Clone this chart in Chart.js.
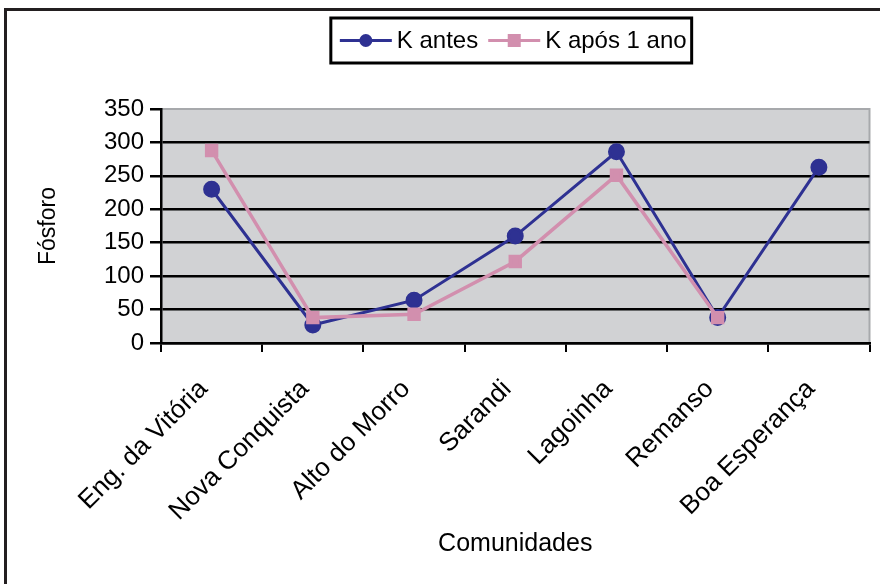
<!DOCTYPE html>
<html>
<head>
<meta charset="utf-8">
<script src="https://cdn.jsdelivr.net/npm/chart.js@4"></script>
<style>
  html, body { margin: 0; padding: 0; background: #fff; }
  #wrap { position: relative; width: 880px; height: 584px; }
</style>
</head>
<body>
<div id="wrap"><canvas id="chart" width="880" height="584"></canvas></div>
<script>
// data
var communities = ['Eng. da Vitória', 'Nova Conquista', 'Alto do Morro', 'Sarandi', 'Lagoinha', 'Remanso', 'Boa Esperança'];
var kBefore = [230, 27, 64, 160, 286, 38, 263];
var kAfterYear = [288, 38, 43, 122, 251, 38, null];
var seriesNames = ['K antes', 'K após 1 ano'];
var yTicks = [0, 50, 100, 150, 200, 250, 300, 350];

var FONT = "'Liberation Sans', Arial, sans-serif";
var BLUE = '#2e3192';
var PINK = '#d28fae';

// gray plot background + frame around the whole figure
const backdrop = {
    id: 'backdrop',
    beforeDraw(chart) {
        const { ctx, chartArea: a } = chart;
        ctx.save();
        ctx.fillStyle = '#d1d2d4';
        ctx.fillRect(a.left, a.top, a.right - a.left, a.bottom - a.top);
        ctx.strokeStyle = '#a7a9ac';
        ctx.lineWidth = 2;
        ctx.beginPath();
        ctx.moveTo(a.left, a.top);
        ctx.lineTo(a.right, a.top);
        ctx.lineTo(a.right, a.bottom);
        ctx.stroke();
        // outer frame (left + top edges, rest cut off)
        ctx.strokeStyle = '#231f20';
        ctx.lineWidth = 3;
        ctx.beginPath();
        ctx.moveTo(5.5, 600);
        ctx.lineTo(5.5, 9.5);
        ctx.lineTo(900, 9.5);
        ctx.stroke();
        ctx.restore();
    }
};

// boxed legend centered over the plot area
const boxLegend = {
    id: 'boxLegend',
    afterDraw(chart) {
        const { ctx, chartArea: a } = chart;
        const styles = [
            { color: BLUE, shape: 'circle' },
            { color: PINK, shape: 'square' }
        ];
        ctx.save();
        ctx.font = '24px ' + FONT;
        const sample = 52, gap = 5, itemGap = 10, padL = 9, padR = 5;
        let total = padL + padR;
        seriesNames.forEach((n, i) => {
            total += sample + gap + ctx.measureText(n).width + (i ? itemGap : 0);
        });
        const cx = (a.left + a.right) / 2 - 4;
        const left = cx - total / 2, top = 18, h = 45, midY = top + h / 2;
        ctx.strokeStyle = '#000';
        ctx.lineWidth = 3;
        ctx.strokeRect(left, top, total, h);
        let x = left + padL;
        seriesNames.forEach((n, i) => {
            if (i) x += itemGap;
            const s = styles[i];
            ctx.strokeStyle = s.color;
            ctx.lineWidth = 3;
            ctx.beginPath();
            ctx.moveTo(x, midY);
            ctx.lineTo(x + sample, midY);
            ctx.stroke();
            ctx.fillStyle = s.color;
            if (s.shape === 'circle') {
                ctx.beginPath();
                ctx.arc(x + sample / 2, midY, 6.5, 0, Math.PI * 2);
                ctx.fill();
            } else {
                ctx.fillRect(x + sample / 2 - 6.5, midY - 6.5, 13, 13);
            }
            x += sample + gap;
            ctx.fillStyle = '#000';
            ctx.textBaseline = 'middle';
            ctx.fillText(n, x, midY + 1);
            x += ctx.measureText(n).width;
        });
        ctx.restore();
    }
};

new Chart(document.getElementById('chart'), {
    type: 'line',
    data: {
        labels: communities,
        datasets: [{
            label: seriesNames[0],
            data: kBefore,
            borderColor: BLUE,
            backgroundColor: BLUE,
            borderWidth: 3,
            pointStyle: 'circle',
            pointRadius: 7,
            pointHoverRadius: 7,
            tension: 0,
            order: 1,
        }, {
            label: seriesNames[1],
            data: kAfterYear,
            borderColor: PINK,
            backgroundColor: PINK,
            borderWidth: 3.5,
            pointStyle: 'rect',
            pointRadius: 7,
            pointHoverRadius: 7,
            tension: 0,
            spanGaps: false,
            order: 0,
        }]
    },
    options: {
        responsive: false,
        animation: false,
        events: [],
        layout: { padding: { top: 109, right: 8, left: 0, bottom: 0 } },
        plugins: { legend: { display: false }, tooltip: { enabled: false } },
        scales: {
            x: {
                offset: true,
                afterFit: (s) => { s.height = 241; },
                grid: { offset: true, drawOnChartArea: false, color: '#000', lineWidth: 2, tickLength: 9 },
                border: { display: true, color: '#000', width: 2.5 },
                ticks: {
                    minRotation: 45, maxRotation: 45, autoSkip: false, padding: 22, labelOffset: -8,
                    color: '#000', font: { family: FONT, size: 26 }
                },
                title: {
                    display: true, text: 'Comunidades', color: '#000',
                    font: { family: FONT, size: 25 }, padding: { top: 0, bottom: 25 }
                }
            },
            y: {
                min: 0, max: 350,
                afterFit: (s) => { s.width = 161; },
                afterBuildTicks: (s) => { s.ticks = yTicks.map(v => ({ value: v })); },
                grid: {
                    color: (c) => c.tick && c.tick.value === 350 ? 'rgba(0,0,0,0)' : '#000',
                    tickColor: '#000', lineWidth: 2.5, tickLength: 11
                },
                border: { display: true, color: '#000', width: 2.5 },
                ticks: { color: '#000', padding: 6, font: { family: FONT, size: 24 } },
                title: {
                    display: true, text: 'Fósforo', color: '#000',
                    font: { family: FONT, size: 23 }, padding: { top: 35, bottom: 0 }
                }
            }
        }
    },
    plugins: [backdrop, boxLegend]
});
</script>
</body>
</html>
